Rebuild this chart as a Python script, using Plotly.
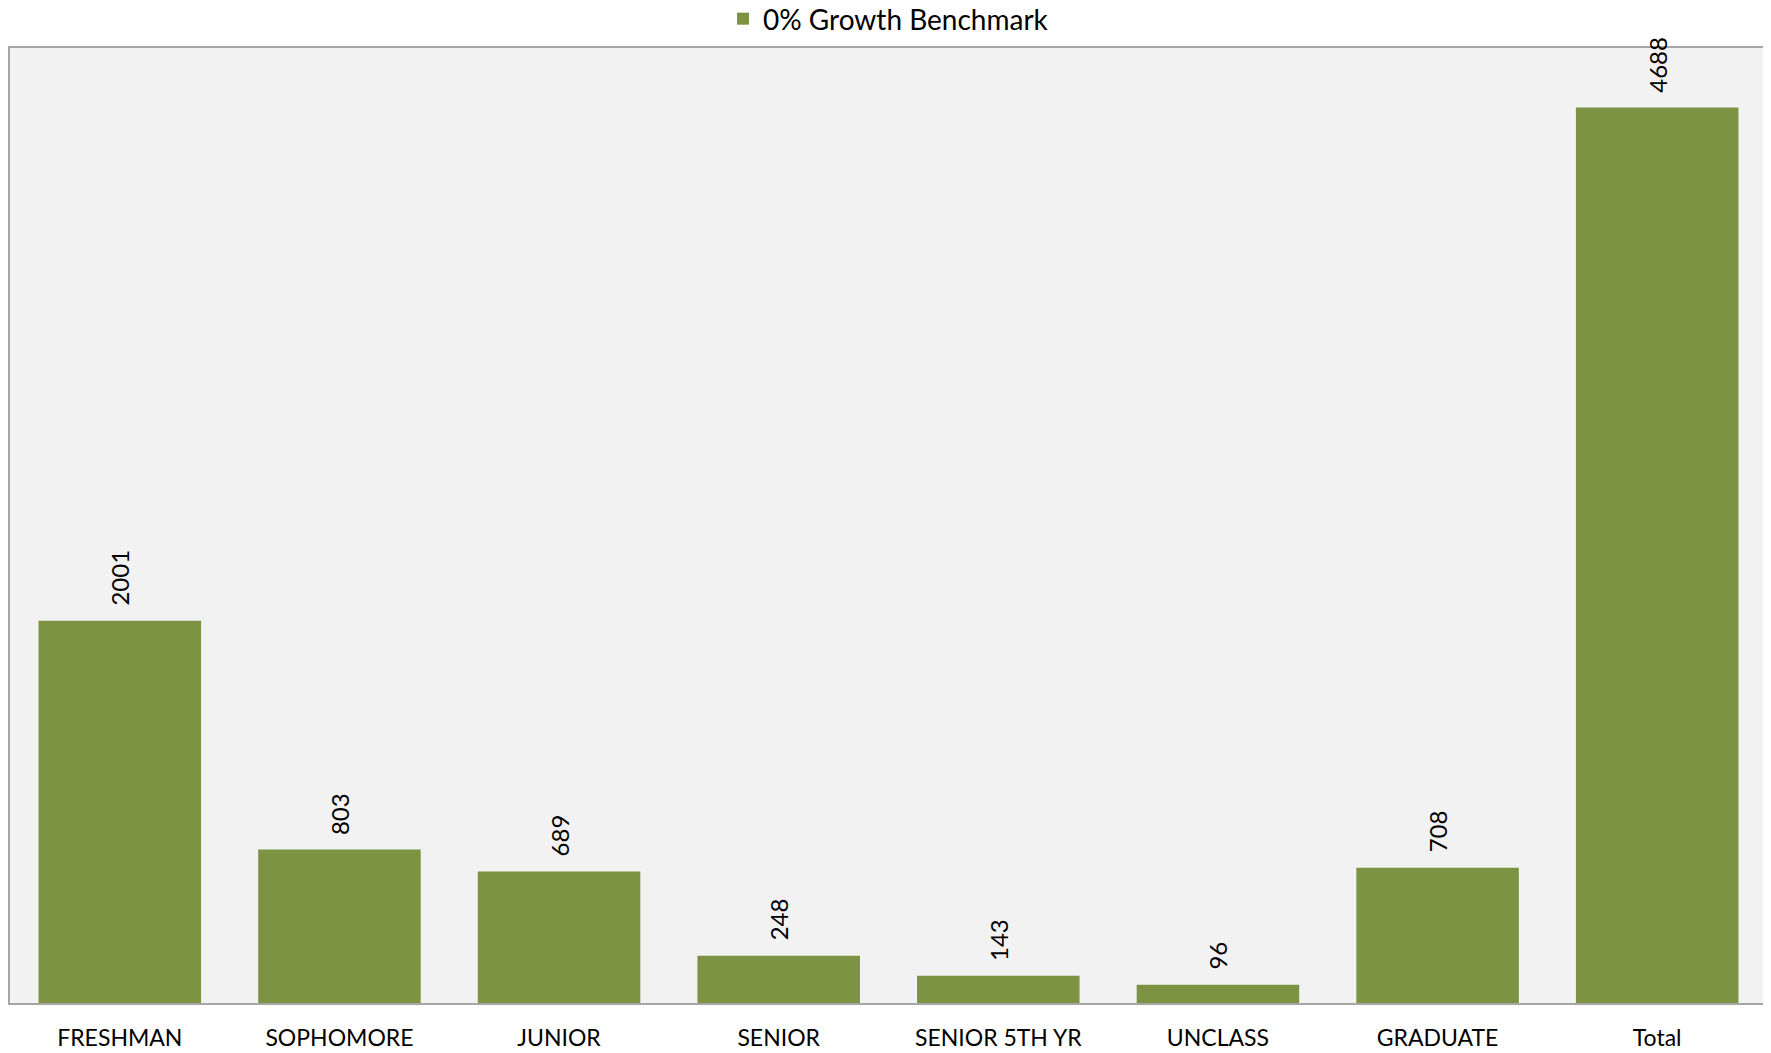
import plotly.graph_objects as go

categories = ["FRESHMAN", "SOPHOMORE", "JUNIOR", "SENIOR", "SENIOR 5TH YR", "UNCLASS", "GRADUATE", "Total"]
values = [2001, 803, 689, 248, 143, 96, 708, 4688]
series_name = "0% Growth Benchmark"

BAR = "#7B9343"
FONT = "Lato, 'Open Sans', sans-serif"

fig = go.Figure()
fig.add_trace(go.Bar(
    x=categories, y=values, name=series_name,
    marker=dict(color=BAR, line=dict(width=0)),
    width=0.74,
    showlegend=True,
))

for c, v in zip(categories, values):
    fig.add_annotation(
        x=c, y=v, xref="x", yref="y", text=str(v), showarrow=False,
        textangle=-90, yanchor="bottom", xanchor="center", yshift=13,
        font=dict(family=FONT, size=24, color="#000000"),
    )

fig.update_layout(
    width=1763, height=1045,
    margin=dict(l=2, r=3, t=38, b=50, pad=0),
    paper_bgcolor="#FFFFFF",
    plot_bgcolor="#F2F2F2",
    font=dict(family=FONT, size=23, color="#000000"),
    showlegend=True,
    legend=dict(orientation="h", x=0.5, xanchor="center", y=0.9895, yanchor="middle",
                yref="container", font=dict(family=FONT, size=28, color="#000000"),
                bgcolor="rgba(0,0,0,0)", itemwidth=30),
    bargap=0.26,
)
fig.update_xaxes(
    showline=True, linecolor="#A6A6A6", linewidth=2, mirror=True,
    ticks="outside", ticklen=13, tickcolor="rgba(0,0,0,0)",
    showgrid=False, tickfont=dict(family=FONT, size=23, color="#000000"),
)
fig.update_yaxes(
    range=[0, 5000], showticklabels=False, showgrid=False, zeroline=False,
    showline=True, linecolor="#A6A6A6", linewidth=2, mirror=True, ticks="",
)

fig.write_html("out.html")
